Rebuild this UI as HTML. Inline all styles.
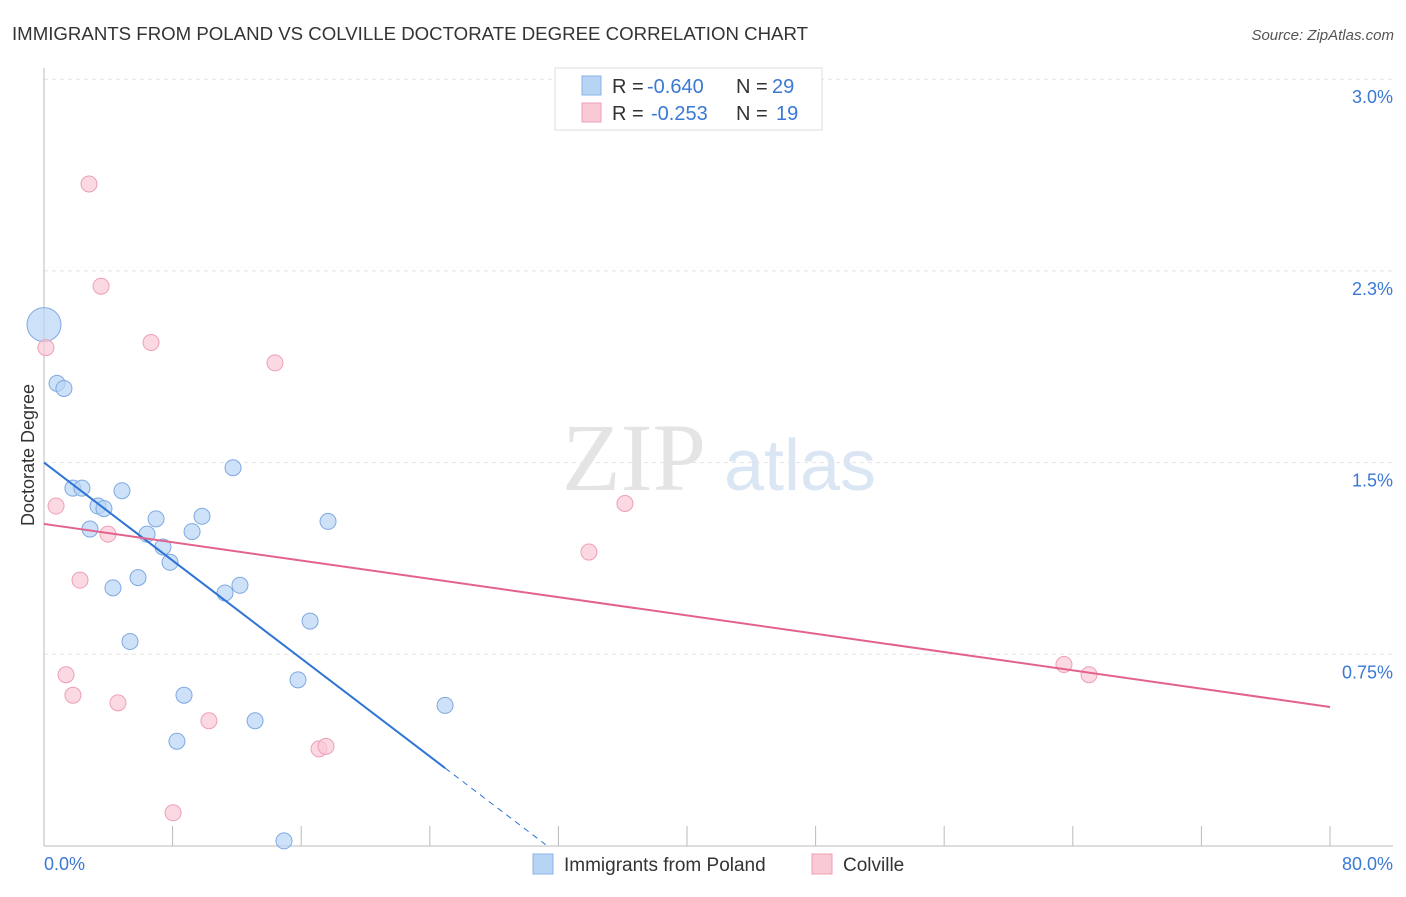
<!DOCTYPE html>
<html><head><meta charset="utf-8">
<style>
body{margin:0;background:#fff;font-family:"Liberation Sans",sans-serif;}
svg text{font-family:"Liberation Sans",sans-serif;}
</style></head>
<body>
<svg id="chart" width="1406" height="892" xmlns="http://www.w3.org/2000/svg">
<text x="12" y="40" font-size="18" fill="#333" textLength="796" lengthAdjust="spacingAndGlyphs">IMMIGRANTS FROM POLAND VS COLVILLE DOCTORATE DEGREE CORRELATION CHART</text>
<text x="1394" y="40" font-size="15" fill="#555" text-anchor="end" font-style="italic">Source: ZipAtlas.com</text>
<g>
<text x="634" y="490" font-size="96" fill="#e4e4e4" text-anchor="middle" font-family="Liberation Serif" style="font-family:'Liberation Serif',serif">ZIP</text>
<text x="800" y="490" font-size="72" fill="#dbe6f5" text-anchor="middle">atlas</text>
</g>
<g id="grid"></g>
<g id="axes"></g>
<g id="marks"></g>
<text x="34" y="455" font-size="18" fill="#333" text-anchor="middle" transform="rotate(-90 34 455)">Doctorate Degree</text>
<g>
<rect x="555" y="68" width="267" height="62" fill="#fff" stroke="#ddd"/>
<rect x="582" y="76" width="19" height="19" fill="#b8d4f5" stroke="#8ab2e6"/>
<text x="612" y="93" font-size="20" fill="#333">R =</text>
<text x="647" y="93" font-size="20" fill="#3a78d4">-0.640</text>
<text x="736" y="93" font-size="20" fill="#333">N =</text>
<text x="772" y="93" font-size="20" fill="#3a78d4">29</text>
<rect x="582" y="103" width="19" height="19" fill="#f9c9d6" stroke="#ee9fb6"/>
<text x="612" y="120" font-size="20" fill="#333">R =</text>
<text x="651" y="120" font-size="20" fill="#3a78d4">-0.253</text>
<text x="736" y="120" font-size="20" fill="#333">N =</text>
<text x="776" y="120" font-size="20" fill="#3a78d4">19</text>
</g>
<g>
<rect x="533" y="854" width="20" height="20" fill="#b8d4f5" stroke="#8ab2e6"/>
<text x="564" y="871" font-size="19" fill="#333">Immigrants from Poland</text>
<rect x="812" y="854" width="20" height="20" fill="#f9c9d6" stroke="#ee9fb6"/>
<text x="843" y="871" font-size="19" fill="#333">Colville</text>
</g>
</svg>
<script>
const yTicks=[0.75,1.5,2.25,3.0];
const yTickLabels=["0.75%","1.5%","2.3%","3.0%"];
const xTickLabels=["0.0%","80.0%"];
const polandX=[0,0.81,1.24,1.80,2.36,3.36,3.73,2.86,4.85,4.29,5.85,5.35,6.41,6.97,7.40,7.84,9.21,9.83,8.71,8.27,11.76,11.26,12.19,13.13,15.80,16.55,17.67,14.93,24.95];
const polandY=[2.04,1.81,1.79,1.40,1.40,1.33,1.32,1.24,1.39,1.01,1.05,0.80,1.22,1.28,1.17,1.11,1.23,1.29,0.59,0.41,1.48,0.99,1.02,0.49,0.65,0.88,1.27,0.02,0.55];
const colvilleX=[2.80,3.55,0.12,6.66,14.37,0.75,3.98,2.24,1.37,1.80,4.60,10.26,8.03,17.11,17.54,36.14,33.90,63.45,65.01];
const colvilleY=[2.59,2.19,1.95,1.97,1.89,1.33,1.22,1.04,0.67,0.59,0.56,0.49,0.13,0.38,0.39,1.34,1.15,0.71,0.67];
const polandTrend=[1.50,0.305];const polandTrendX=[0,24.95,31.2];
const colvilleTrend=[1.26,0.544];const colvilleTrendX=[0,80];
const NS="http://www.w3.org/2000/svg";
const sx=v=>44+v/80*1286, sy=v=>846-v/0.75*191.7;
function mk(t,a,p){const e=document.createElementNS(NS,t);for(const k in a)e.setAttribute(k,a[k]);document.getElementById(p).appendChild(e);return e;}
yTicks.forEach((t,i)=>{
 const l=mk('line',{x1:44,x2:1393,y1:sy(t),y2:sy(t),stroke:'#e4e4e4','stroke-dasharray':'4,4'},'grid');
 
 
 const tx=mk('text',{x:1393,y:sy(t)+24,'font-size':18,fill:'#3a78d4','text-anchor':'end'},'axes');
 tx.textContent=yTickLabels[i];
 
 
});
const ax=mk('line',{x1:44,x2:1393,y1:846,y2:846,stroke:'#bbb'},'axes');


const ay=mk('line',{x1:44,x2:44,y1:68,y2:846,stroke:'#bbb'},'axes');


for(let i=0;i<=10;i++){const t=mk('line',{x1:sx(i*8),x2:sx(i*8),y1:826,y2:846,stroke:'#bbb'},'axes');
 
 }
[[0,'start',44],[80,'end',1393]].forEach((d,i)=>{const t=mk('text',{x:d[2],y:870,'font-size':18,fill:'#3a78d4','text-anchor':d[1]},'axes');t.textContent=xTickLabels[i];
 
 });
polandX.forEach((x,i)=>{const c=mk('circle',{cx:sx(x),cy:sy(polandY[i]),r:i==0?17:8,fill:'#b8d4f5','fill-opacity':0.7,stroke:'#7fa9e0'},'marks');
 
 });
colvilleX.forEach((x,i)=>{const c=mk('circle',{cx:sx(x),cy:sy(colvilleY[i]),r:8,fill:'#f9c9d6','fill-opacity':0.7,stroke:'#ee9fb6'},'marks');
 
 });
const slopeP=(polandTrend[1]-polandTrend[0])/polandTrendX[1];
const pl=mk('line',{x1:sx(0),y1:sy(polandTrend[0]),x2:sx(polandTrendX[1]),y2:sy(polandTrend[1]),stroke:'#2e74d6','stroke-width':2},'marks');


const pd=mk('line',{x1:sx(polandTrendX[1]),y1:sy(polandTrend[1]),x2:sx(polandTrendX[2]),y2:sy(polandTrend[0]+slopeP*polandTrendX[2]),stroke:'#2e74d6','stroke-width':1,'stroke-dasharray':'6,5'},'marks');


const cl=mk('line',{x1:sx(colvilleTrendX[0]),y1:sy(colvilleTrend[0]),x2:sx(colvilleTrendX[1]),y2:sy(colvilleTrend[1]),stroke:'#e3628c','stroke-width':2},'marks');


</script>
</body></html>
